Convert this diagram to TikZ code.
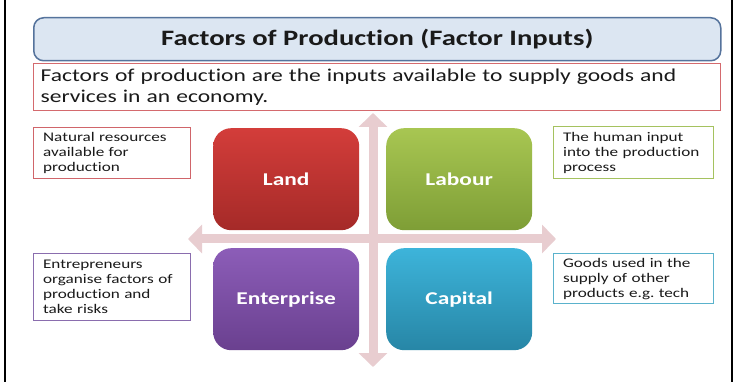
\documentclass[tikz,border=0pt]{standalone}
\usepackage{fontspec}
\setmainfont{Carlito}[FakeStretch=1.3, Ligatures=NoCommon]
\usetikzlibrary{arrows.meta}
\definecolor{titlefill}{HTML}{DCE6F2}
\definecolor{titledraw}{HTML}{55739C}
\definecolor{defdraw}{HTML}{D46A6E}
\definecolor{arrowpink}{HTML}{E8CDD0}
\definecolor{landtop}{HTML}{D33D3A}
\definecolor{landbot}{HTML}{A52A28}
\definecolor{labtop}{HTML}{A8C652}
\definecolor{labbot}{HTML}{7E9E36}
\definecolor{enttop}{HTML}{8C5DB8}
\definecolor{entbot}{HTML}{6A408F}
\definecolor{captop}{HTML}{3DB4DA}
\definecolor{capbot}{HTML}{2786A6}
\definecolor{redline}{HTML}{D0656A}
\definecolor{greenline}{HTML}{A5C25F}
\definecolor{purpleline}{HTML}{8A6DAE}
\definecolor{tealline}{HTML}{5AB2CC}
\definecolor{textgray}{HTML}{1A1A1A}
\tikzset{
  quad/.style={rounded corners=18pt, minimum width=146pt, minimum height=102pt,
    anchor=north west, inner sep=0pt, text=white, font=\bfseries\fontsize{18}{20}\selectfont},
  note/.style={draw, line width=1.2pt, fill=white, anchor=north west, inner sep=0pt,
    align=left, text=textgray, font=\fontsize{13.2}{15}\selectfont},
  bigarrow/.style={draw=arrowpink, line width=9pt,
    {Triangle[width=28pt,length=14pt]}-{Triangle[width=28pt,length=14pt]}},
  frameline/.style={draw=black, line width=2.5pt}
}
\begin{document}
\begin{tikzpicture}[x=1pt,y=-1pt]
\useasboundingbox (0,0) rectangle (739,382);
\fill[white] (0,0) rectangle (739,382);
% frame lines
\coordinate (fl1) at (5,0); \coordinate (fl2) at (5,382);
\coordinate (fr1) at (732,0); \coordinate (fr2) at (732,382);
\draw[frameline] (fl1) -- (fl2);
\draw[frameline] (fr1) -- (fr2);
% title
\node[draw=titledraw, fill=titlefill, line width=1.5pt, rounded corners=10pt,
  minimum width=687pt, minimum height=43pt, anchor=north west, inner sep=0pt,
  text=textgray, font=\bfseries\fontsize{22}{24}\selectfont] (title) at (33,17)
  {Factors of Production (Factor Inputs)};
% definition
\node[draw=defdraw, line width=1.2pt, anchor=north west, inner sep=0pt,
  minimum width=687pt, minimum height=47pt, text width=673pt, align=left,
  text=textgray, font=\fontsize{18.1}{21}\selectfont] (def) at (33,63)
  {Factors of production are the inputs available to supply goods and\\services in an economy.};
% arrows
\coordinate (vtop) at (373,113); \coordinate (vbot) at (373,367);
\coordinate (hleft) at (188,239); \coordinate (hright) at (556,239);
\draw[bigarrow] (vtop) -- (vbot);
\draw[bigarrow] (hleft) -- (hright);
% quadrants
\node[quad, top color=landtop, bottom color=landbot] (land) at (213,128) {Land};
\node[quad, top color=labtop, bottom color=labbot] (labour) at (386,128) {Labour};
\node[quad, top color=enttop, bottom color=entbot] (ent) at (213,248) {Enterprise};
\node[quad, top color=captop, bottom color=capbot] (cap) at (386,248) {Capital};
% notes
\node[note, draw=redline, minimum width=157pt, minimum height=51pt, text width=152pt] (n1) at (33,127)
  {\hspace*{7pt}Natural resources\\\hspace*{7pt}available for\\\hspace*{7pt}production};
\node[note, draw=greenline, minimum width=160pt, minimum height=52pt, text width=155pt] (n2) at (553,126)
  {\hspace*{7pt}The human input\\\hspace*{7pt}into the production\\\hspace*{7pt}process};
\node[note, draw=purpleline, minimum width=157pt, minimum height=67pt, text width=152pt] (n3) at (33,253)
  {\hspace*{7pt}Entrepreneurs\\\hspace*{7pt}organise factors of\\\hspace*{7pt}production and\\\hspace*{7pt}take risks};
\node[note, draw=tealline, minimum width=160pt, minimum height=50pt, text width=155pt] (n4) at (553,253)
  {\hspace*{7pt}Goods used in the\\\hspace*{7pt}supply of other\\\hspace*{7pt}products e.g.\ tech};
\end{tikzpicture}
\end{document}
